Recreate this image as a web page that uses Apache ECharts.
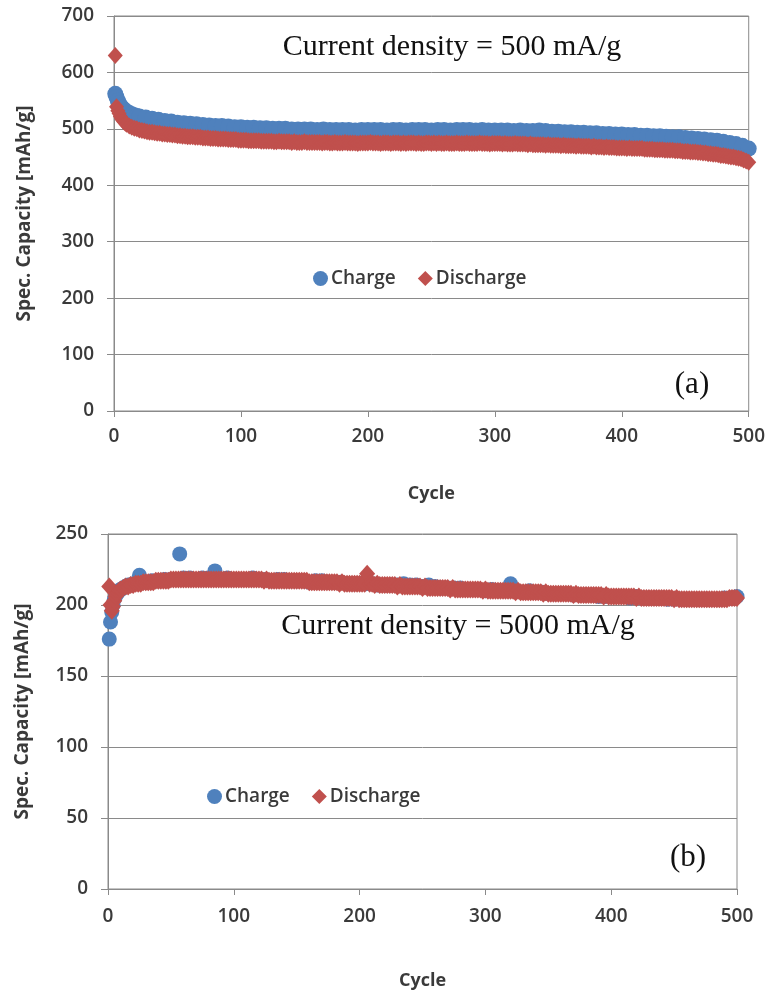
<!DOCTYPE html>
<html>
<head>
<meta charset="utf-8">
<title>Spec. Capacity vs Cycle</title>
<script src="https://cdn.jsdelivr.net/npm/echarts@6/dist/echarts.min.js"></script>
<style>
  html, body { margin: 0; padding: 0; background: #ffffff; }
  #chart { width: 768px; height: 999px; }
</style>
</head>
<body>
<div id="chart"></div>
<script>
// ---------- (a) 500 mA/g ----------
// charge capacity, sampled every 5 cycles after the first 20
const chargeCyclesA = [1,2,3,4,5,6,7,8,9,10,12,14,16,18,20,
  25,30,35,40,45,50,55,60,65,70,75,80,85,90,95,100,
  105,110,115,120,125,130,135,140,145,150,155,160,165,170,175,180,185,190,195,200,
  205,210,215,220,225,230,235,240,245,250,255,260,265,270,275,280,285,290,295,300,
  305,310,315,320,325,330,335,340,345,350,355,360,365,370,375,380,385,390,395,400,
  405,410,415,420,425,430,435,440,445,450,455,460,465,470,475,480,485,490,495,500];
const chargeA = [562,556,550,545,541,538,536,534,532,530,
  528,526,524,523,522,
  520,518,516,514,513,511,510,509,508,507,506,505,505,504,503,503,
  502,502,501,501,500,500,500,499,499,499,499,498,499,498,498,498,498,497,498,498,
  498,498,497,498,498,497,498,498,498,497,498,498,497,498,498,498,497,498,497,497,
  497,497,496,497,496,496,497,496,495,495,494,494,493,493,492,492,491,491,490,490,
  489,489,488,488,487,487,486,485,485,484,483,482,481,480,479,477,475,473,470,465];

// discharge capacity, every cycle to 10, then every 2 cycles
const dischargeCyclesA = [1,2,3,4,5,6,7,8,9,10,
  12,14,16,18,20,22,24,26,28,30,32,34,36,38,40,42,44,46,48,50,52,54,56,58,60,
  62,64,66,68,70,72,74,76,78,80,82,84,86,88,90,92,94,96,98,100,102,104,106,108,110,
  112,114,116,118,120,122,124,126,128,130,132,134,136,138,140,142,144,146,148,150,152,154,156,158,160,
  162,164,166,168,170,172,174,176,178,180,182,184,186,188,190,192,194,196,198,200,202,204,206,208,210,
  212,214,216,218,220,222,224,226,228,230,232,234,236,238,240,242,244,246,248,250,252,254,256,258,260,
  262,264,266,268,270,272,274,276,278,280,282,284,286,288,290,292,294,296,298,300,302,304,306,308,310,
  312,314,316,318,320,322,324,326,328,330,332,334,336,338,340,342,344,346,348,350,352,354,356,358,360,
  362,364,366,368,370,372,374,376,378,380,382,384,386,388,390,392,394,396,398,400,402,404,406,408,410,
  412,414,416,418,420,422,424,426,428,430,432,434,436,438,440,442,444,446,448,450,452,454,456,458,460,
  462,464,466,468,470,472,474,476,478,480,482,484,486,488,490,492,494,496,498,500];
const dischargeA = [630,539,532,527,522,518,515,512,510,508,
  505,503,501,500,498,497,496,495,494,494,493,492,492,491,491,490,490,489,489,488,488,487,487,486,486,
  486,485,485,485,484,484,484,483,483,483,482,482,482,482,481,481,481,481,480,480,480,480,479,479,479,
  479,479,478,478,478,478,478,477,477,478,477,477,477,477,476,477,476,476,476,477,476,476,476,476,476,
  476,475,476,476,475,475,476,475,475,475,476,475,475,475,475,474,475,475,475,475,476,475,475,475,474,
  475,475,475,474,475,475,475,474,475,474,475,475,475,474,475,474,474,475,475,474,475,474,475,474,474,
  475,474,474,474,475,474,474,474,475,474,474,474,474,475,474,474,474,473,474,474,474,474,473,474,473,
  473,473,474,473,473,473,473,472,473,472,472,472,472,472,471,472,471,471,471,471,470,471,470,470,470,
  470,469,470,469,469,469,469,468,469,468,468,468,467,468,467,467,467,466,466,466,466,465,466,465,465,
  465,465,465,464,464,464,464,463,463,463,463,462,462,462,462,461,461,461,460,460,460,459,459,459,458,
  458,457,457,456,456,455,455,454,453,453,452,451,450,450,449,448,447,445,443,441];

// ---------- (b) 5000 mA/g ----------
const chargeCyclesB = [1,2,3,4,5,6,7,8,9,10,12,14,16,18,20,
  25,30,35,40,45,50,55,57,
  60,65,70,75,80,85,90,95,100,
  105,110,115,120,125,130,135,140,145,150,155,160,165,170,175,180,185,190,195,200,
  205,210,215,220,225,230,235,240,245,250,255,260,265,270,275,280,285,290,295,300,
  305,310,315,320,325,330,335,340,345,350,355,360,365,370,375,380,385,390,395,400,
  405,410,415,420,425,430,435,440,445,450,455,460,465,470,475,480,485,490,495,500];
const chargeB = [176,188,195,200,204,206,208,209,210,211,
  212,213,214,214,215,
  221,216,217,217,218,218,218,236,
  219,219,218,219,219,224,218,219,218,
  218,218,219,218,218,217,218,218,217,217,217,216,217,217,216,216,216,215,215,215,
  215,215,214,214,214,214,215,214,214,213,214,213,212,212,212,212,211,211,211,210,
  211,210,210,215,210,209,210,209,209,208,208,208,208,207,207,207,207,206,206,206,
  206,206,205,206,205,205,205,205,204,204,204,204,204,204,204,204,204,205,205,206];

const dischargeCyclesB = dischargeCyclesA;
const dischargeB = [213,200,196,199,203,206,208,209,210,211,
  212,213,213,214,214,215,215,215,216,216,216,216,216,217,217,217,217,217,217,218,218,218,218,218,218,
  218,218,218,218,218,218,218,218,218,218,218,218,218,218,218,218,218,218,218,218,218,218,218,218,218,
  218,218,218,218,218,218,217,218,217,217,217,217,217,217,217,217,217,217,217,217,217,217,217,217,216,
  216,216,216,216,216,216,216,216,216,216,216,215,216,215,215,215,215,215,215,215,215,215,222,215,215,
  214,215,214,214,214,214,214,214,214,213,214,213,213,213,213,213,213,213,213,212,213,212,212,212,212,
  212,212,212,212,212,211,212,211,211,211,211,211,211,211,211,211,211,211,210,211,210,210,210,210,210,
  210,210,210,210,210,210,209,210,209,209,209,209,209,209,209,209,209,208,209,208,208,208,208,208,208,
  208,208,208,208,207,208,207,207,207,207,207,207,207,207,207,207,206,207,206,206,206,206,206,206,206,
  206,206,206,206,205,206,205,205,205,205,205,205,205,205,205,205,205,205,205,204,205,204,204,204,204,
  204,204,204,204,204,204,204,204,204,204,204,204,204,204,204,204,205,205,205,205];

const yTicksA = { min: 0, max: 700, interval: 100 };
const yTicksB = { min: 0, max: 250, interval: 50 };
const xTicks = { min: 0, max: 500, interval: 100 };

const BLUE = '#4F81BD';
const RED = '#C0504D';
const GRAY = '#8a8a8a';
const TEXT = '#3a3a3a';
const SANS = '"Open Sans", "DejaVu Sans", sans-serif';
const SERIF = '"Liberation Serif", "DejaVu Serif", serif';

const pairs = (xs, ys) => xs.map((x, i) => [x, ys[i]]);

function xAxis(gridIndex, labelMargin, nameGap) {
  return {
    type: 'value', gridIndex, ...xTicks,
    name: 'Cycle', nameLocation: 'middle', nameGap,
    nameTextStyle: { fontFamily: SANS, fontSize: 18, fontWeight: 'bold', color: TEXT },
    axisLine: { show: true, lineStyle: { color: GRAY, width: 1 } },
    axisTick: { show: true, inside: false, length: 6, lineStyle: { color: GRAY } },
    axisLabel: { margin: labelMargin, fontFamily: SANS, fontSize: 19, fontWeight: 600, color: TEXT },
    splitLine: { show: false }
  };
}
function yAxis(gridIndex, ticks, nameGap) {
  return {
    type: 'value', gridIndex, ...ticks,
    name: 'Spec. Capacity [mAh/g]', nameLocation: 'middle', nameGap,
    nameTextStyle: { fontFamily: SANS, fontSize: 19, fontWeight: 'bold', color: TEXT },
    axisLine: { show: true, lineStyle: { color: GRAY, width: 1 } },
    axisTick: { show: true, inside: false, length: 7, lineStyle: { color: GRAY } },
    axisLabel: { margin: 20, fontFamily: SANS, fontSize: 19, fontWeight: 600, color: TEXT },
    splitLine: { show: true, lineStyle: { color: GRAY, width: 1 } }
  };
}
function legend(left, top) {
  return {
    left, top, orient: 'horizontal',
    itemWidth: 15, itemHeight: 15, itemGap: 22,
    textStyle: { fontFamily: SANS, fontSize: 19, fontWeight: 600, color: TEXT, padding: [0, 0, 0, -2] },
    data: [{ name: 'Charge', icon: 'circle' }, { name: 'Discharge', icon: 'diamond' }],
    selectedMode: false
  };
}
function scatter(name, xi, yi, data, color, symbol, size) {
  return {
    type: 'scatter', name, xAxisIndex: xi, yAxisIndex: yi, data,
    symbol, symbolSize: size, large: false,
    itemStyle: { color, opacity: 1 },
    emphasis: { disabled: true }
  };
}

const chart = echarts.init(document.getElementById('chart'), null, { renderer: 'canvas' });
chart.setOption({
  animation: false,
  backgroundColor: '#ffffff',
  grid: [
    { left: 114, top: 16, width: 636, height: 395, show: true, borderColor: GRAY, borderWidth: 1, backgroundColor: 'transparent' },
    { left: 108, top: 534, width: 629, height: 355, show: true, borderColor: GRAY, borderWidth: 1, backgroundColor: 'transparent' }
  ],
  xAxis: [xAxis(0, 16, 74), xAxis(1, 18, 83)],
  yAxis: [yAxis(0, yTicksA, 80), yAxis(1, yTicksB, 76)],
  legend: [legend(308, 264), legend(202, 782)],
  series: [
    scatter('Charge', 0, 0, pairs(chargeCyclesA, chargeA), BLUE, 'circle', 16),
    scatter('Discharge', 0, 0, pairs(dischargeCyclesA, dischargeA), RED, 'diamond', [15, 17]),
    scatter('Charge', 1, 1, pairs(chargeCyclesB, chargeB), BLUE, 'circle', 15),
    scatter('Discharge', 1, 1, pairs(dischargeCyclesB, dischargeB), RED, 'diamond', [16, 18])
  ],
  graphic: [
    { type: 'text', x: 452, y: 47, style: { text: 'Current density = 500 mA/g', font: '30px ' + SERIF, fill: '#111', textAlign: 'center', textVerticalAlign: 'middle' } },
    { type: 'text', x: 692, y: 385, style: { text: '(a)', font: '31px ' + SERIF, fill: '#111', textAlign: 'center', textVerticalAlign: 'middle' } },
    { type: 'text', x: 458, y: 626, style: { text: 'Current density = 5000 mA/g', font: '30px ' + SERIF, fill: '#111', textAlign: 'center', textVerticalAlign: 'middle' } },
    { type: 'text', x: 688, y: 858, style: { text: '(b)', font: '31px ' + SERIF, fill: '#111', textAlign: 'center', textVerticalAlign: 'middle' } }
  ]
});
</script>
</body>
</html>
